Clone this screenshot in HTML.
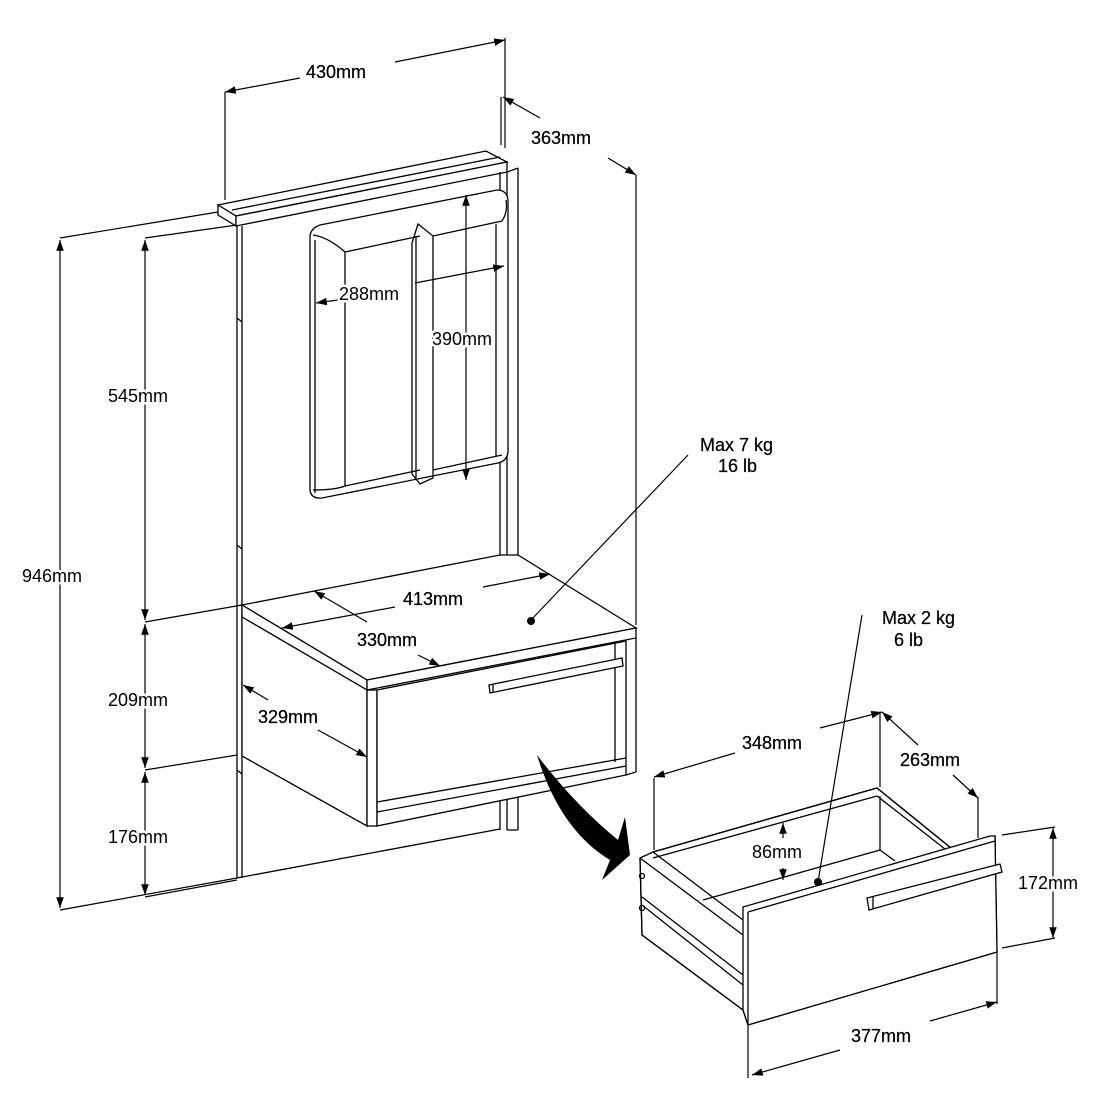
<!DOCTYPE html>
<html><head><meta charset="utf-8"><style>
html,body{margin:0;padding:0;background:#fff;}
svg{display:block}
text{font-family:"Liberation Sans",Arial,sans-serif;font-size:18px;fill:#000;stroke:#000;stroke-width:0.25}
.bg{paint-order:stroke;stroke:#fff;stroke-width:5}
</style></head><body>
<svg width="1100" height="1100" viewBox="0 0 1100 1100" xmlns="http://www.w3.org/2000/svg">
<defs>
<marker id="a" viewBox="0 0 10 10" refX="10" refY="5" markerWidth="9" markerHeight="9" orient="auto-start-reverse"><path d="M0,1.5 L10,5 L0,8.5 z" fill="#000"/></marker>
</defs>
<g stroke="#000" stroke-width="1.3" fill="none">
<polygon points="218,205 486,151 507,162 236,216" fill="#fff"/>
<polygon points="218,205 236,216 236,226 218,215" fill="#fff"/>
<polygon points="236,216 507,162 507,172 236,226" fill="#fff"/>
<line x1="232" y1="210" x2="500" y2="157"/>
<line x1="237" y1="226" x2="237" y2="878"/>
<line x1="242" y1="226" x2="242" y2="878"/>
<line x1="500" y1="172" x2="500" y2="555"/>
<line x1="507" y1="172" x2="507" y2="556"/>
<line x1="518" y1="168" x2="518" y2="558"/>
<line x1="507" y1="172" x2="518" y2="168"/>
<line x1="237" y1="878" x2="500" y2="829"/>
<line x1="500" y1="800" x2="500" y2="830"/>
<line x1="507" y1="800" x2="507" y2="830"/>
<line x1="518" y1="796" x2="518" y2="830"/>
<line x1="507" y1="830" x2="518" y2="830"/>
<line x1="237" y1="318" x2="242" y2="322"/>
<line x1="237" y1="545" x2="242" y2="549"/>
<line x1="237" y1="770" x2="242" y2="774"/>
<path d="M310,236 Q311,228 320,225 L497,190 Q507,190 508,200 L508,452 Q507,461 498,463 L322,498 Q311,499 310,490 Z" fill="#fff"/>
<line x1="315" y1="240" x2="315" y2="493"/>
<path d="M313,235 Q328,237 345,252 L420,236"/>
<path d="M345,252 L345,486"/>
<path d="M313,490 Q335,490 345,486 L420,470"/>
<path d="M412,243 L418,224 L433,236 L433,478 L420,484 L412,474 Z"/>
<line x1="416" y1="236" x2="416" y2="478"/>
<line x1="433" y1="236" x2="502" y2="221"/>
<line x1="433" y1="470" x2="502" y2="455"/>
<path d="M502,221 Q508,212 506,200"/>
<line x1="496" y1="224" x2="496" y2="456"/>
<polygon points="242,605 500,555 518,555 636,628 367,680" fill="#fff"/>
<polygon points="242,605 367,680 367,690 242,617" fill="#fff"/>
<polygon points="367,680 636,628 636,638 367,690" fill="#fff"/>
<polygon points="242,617 367,690 367,826 242,756" fill="#fff"/>
<rect x="367" y="690" width="10" height="136" fill="#fff"/>
<polygon points="377,690 626,641 626,775 377,826" fill="#fff"/>
<line x1="636" y1="638" x2="636" y2="772"/>
<line x1="626" y1="775" x2="636" y2="772"/>
<line x1="377" y1="802" x2="626" y2="758"/>
<line x1="377" y1="812" x2="626" y2="766"/>
<line x1="615" y1="643" x2="615" y2="762"/>
<polygon points="489,685 622,658 623,666 490,693" fill="#fff"/>
<line x1="493" y1="685" x2="493" y2="693"/>
<polygon points="640,858 653,852 877,788 951,848 995,836 997,952 748,1025 743,1010 642,935" fill="#fff"/>
<line x1="653" y1="852" x2="877" y2="788"/>
<line x1="653" y1="858" x2="877" y2="796"/>
<line x1="877" y1="788" x2="951" y2="848"/>
<line x1="877" y1="796" x2="945" y2="849"/>
<line x1="880" y1="796" x2="880" y2="850"/>
<line x1="703" y1="900" x2="880" y2="850"/>
<line x1="880" y1="850" x2="895" y2="861"/>
<line x1="640" y1="858" x2="743" y2="935"/>
<line x1="653" y1="852" x2="743" y2="920"/>
<line x1="640" y1="858" x2="642" y2="935"/>
<line x1="642" y1="897" x2="743" y2="975"/>
<line x1="642" y1="905" x2="743" y2="985"/>
<line x1="642" y1="935" x2="743" y2="1010"/>
<polygon points="743,907 990,836 995,836 997,952 748,1025 743,1010" fill="#fff"/>
<line x1="748" y1="912" x2="748" y2="1025"/>
<line x1="748" y1="912" x2="995" y2="841"/>
<polygon points="867,898 1000,864 1002,872 869,910" fill="#fff"/>
<line x1="873" y1="897" x2="873" y2="909"/>
<circle cx="642" cy="876" r="2.5"/>
<circle cx="642" cy="908" r="2.5"/>
</g>
<g stroke="#000" stroke-width="1.2" fill="none">
<line x1="60" y1="238" x2="218" y2="212"/>
<line x1="145" y1="238" x2="237" y2="225"/>
<line x1="145" y1="622" x2="242" y2="605"/>
<line x1="145" y1="770" x2="237" y2="755"/>
<line x1="60" y1="910" x2="237" y2="878"/>
<line x1="145" y1="897" x2="237" y2="880"/>
<line x1="60" y1="240" x2="60" y2="908" marker-start="url(#a)" marker-end="url(#a)"/>
<line x1="145" y1="240" x2="145" y2="620" marker-start="url(#a)" marker-end="url(#a)"/>
<line x1="145" y1="624" x2="145" y2="768" marker-start="url(#a)" marker-end="url(#a)"/>
<line x1="145" y1="772" x2="145" y2="895" marker-start="url(#a)" marker-end="url(#a)"/>
<line x1="225" y1="92" x2="225" y2="200"/>
<line x1="505" y1="38" x2="505" y2="148"/>
<line x1="225" y1="92" x2="300" y2="78" marker-start="url(#a)"/>
<line x1="395" y1="62" x2="505" y2="40" marker-end="url(#a)"/>
<line x1="501" y1="97" x2="501" y2="145"/>
<line x1="636" y1="175" x2="636" y2="625"/>
<line x1="503" y1="97" x2="540" y2="118" marker-start="url(#a)"/>
<line x1="608" y1="158" x2="636" y2="175" marker-end="url(#a)"/>
<line x1="466" y1="195" x2="466" y2="480" marker-start="url(#a)" marker-end="url(#a)"/>
<line x1="415" y1="283" x2="504" y2="266" marker-end="url(#a)"/>
<line x1="338" y1="300" x2="316" y2="303" marker-end="url(#a)"/>
<line x1="483" y1="587" x2="550" y2="574" marker-end="url(#a)"/>
<line x1="395" y1="607" x2="282" y2="628" marker-end="url(#a)"/>
<line x1="367" y1="622" x2="314" y2="591" marker-end="url(#a)"/>
<line x1="418" y1="655" x2="440" y2="666" marker-end="url(#a)"/>
<line x1="268" y1="700" x2="243" y2="685" marker-end="url(#a)"/>
<line x1="318" y1="730" x2="367" y2="757" marker-end="url(#a)"/>
<line x1="654" y1="778" x2="654" y2="850"/>
<line x1="880" y1="712" x2="880" y2="787"/>
<line x1="978" y1="797" x2="978" y2="838"/>
<line x1="735" y1="753" x2="654" y2="777" marker-end="url(#a)"/>
<line x1="820" y1="728" x2="882" y2="712" marker-end="url(#a)"/>
<line x1="918" y1="745" x2="882" y2="712" marker-end="url(#a)"/>
<line x1="953" y1="775" x2="978" y2="798" marker-end="url(#a)"/>
<line x1="1002" y1="835" x2="1055" y2="827"/>
<line x1="1002" y1="948" x2="1055" y2="938"/>
<line x1="1053" y1="828" x2="1053" y2="938" marker-start="url(#a)" marker-end="url(#a)"/>
<line x1="748" y1="1025" x2="748" y2="1078"/>
<line x1="997" y1="952" x2="997" y2="1004"/>
<line x1="840" y1="1050" x2="752" y2="1075" marker-end="url(#a)"/>
<line x1="930" y1="1021" x2="997" y2="1002" marker-end="url(#a)"/>
<line x1="783" y1="838" x2="783" y2="823" marker-end="url(#a)"/>
<line x1="783" y1="868" x2="783" y2="880" marker-end="url(#a)"/>
<line x1="688" y1="455" x2="531" y2="620"/>
<line x1="862" y1="615" x2="818" y2="882"/>
</g>
<circle cx="531" cy="621" r="4" fill="#000"/>
<circle cx="818" cy="882" r="4" fill="#000"/>
<path d="M537,755 Q560,830 610,860 L602,880 L630,855 L625,817 L618,840 Q575,805 537,755 Z" fill="#000"/>
<text x="306" y="78">430mm</text>
<text x="531" y="144">363mm</text>
<text class="bg" x="339" y="300">288mm</text>
<text class="bg" x="432" y="345">390mm</text>
<text class="bg" x="108" y="402">545mm</text>
<text class="bg" x="22" y="582">946mm</text>
<text class="bg" x="108" y="706">209mm</text>
<text class="bg" x="108" y="843">176mm</text>
<text x="403" y="605">413mm</text>
<text x="357" y="646">330mm</text>
<text x="258" y="723">329mm</text>
<text x="700" y="451">Max 7 kg</text>
<text x="718" y="472">16 lb</text>
<text x="882" y="624">Max 2 kg</text>
<text x="894" y="646">6 lb</text>
<text x="742" y="749">348mm</text>
<text x="900" y="766">263mm</text>
<text class="bg" x="752" y="858">86mm</text>
<text class="bg" x="1018" y="889">172mm</text>
<text x="851" y="1042">377mm</text>
</svg>
</body></html>
